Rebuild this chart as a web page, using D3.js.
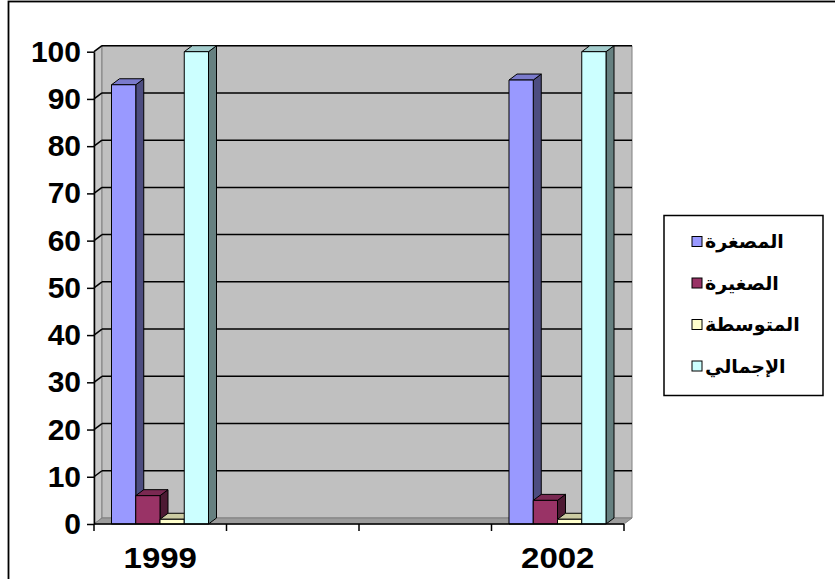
<!DOCTYPE html>
<html>
<head>
<meta charset="utf-8">
<script src="https://cdn.jsdelivr.net/npm/d3@7"></script>
<style>
  html, body { margin: 0; padding: 0; background: #ffffff; }
  svg { display: block; }
</style>
</head>
<body>
<svg id="chart" width="835" height="579"></svg>
<script>
// Axis slots (a yearly time axis) and the years that carry data
const years = ["1999", "2000", "2001", "2002"];
const dataYears = ["1999", "2002"];

// Series (enterprise size classes), percentages per data year
const seriesNames = ["المصغرة", "الصغيرة", "المتوسطة", "الإجمالي"];
const microValues = [93, 94];
const smallValues = [6, 5];
const mediumValues = [1, 1];
const totalValues = [100, 100];

const yTicks = [0, 10, 20, 30, 40, 50, 60, 70, 80, 90, 100];

// Face colours: front, top, side
const frontColors = ["#9999ff", "#993366", "#ffffcc", "#ccffff"];
const topColors   = ["#7a7acc", "#7a2952", "#cccca3", "#a3cccc"];
const sideColors  = ["#4d4d80", "#4d1a33", "#808066", "#668080"];

const seriesValues = [microValues, smallValues, mediumValues, totalValues];

const svg = d3.select("#chart");
const W = 835, H = 579;

// Outer frame (only top and left edges fall inside the view)
svg.append("rect")
  .attr("x", 8.5).attr("y", 1.5)
  .attr("width", W + 20).attr("height", H + 20)
  .attr("fill", "#ffffff").attr("stroke", "#000").attr("stroke-width", 1.8);

// Scales
const x = d3.scaleBand().domain(years).range([94, 624]).padding(0);
const y = d3.scaleLinear().domain([0, 100]).range([524, 51.7]);
const inner = d3.scaleBand().domain(d3.range(seriesNames.length))
  .range([17.5, 17.5 + 97]).padding(0);

// 3D depth offset
const dx = 8, dy = -6;
const [x0, x1] = x.range();
const yBase = y(0), yTop = y(100);

const poly = pts => pts.map(p => p.join(",")).join(" ");

// Side wall
svg.append("polygon")
  .attr("points", poly([[x0, yTop], [x0 + dx, yTop + dy], [x0 + dx, yBase + dy], [x0, yBase]]))
  .attr("fill", "#c8c8c8").attr("stroke", "#808080").attr("stroke-width", 1);

// Back wall
svg.append("polygon")
  .attr("points", poly([[x0 + dx, yTop + dy], [x1 + dx, yTop + dy], [x1 + dx, yBase + dy], [x0 + dx, yBase + dy]]))
  .attr("fill", "#c0c0c0").attr("stroke", "#808080").attr("stroke-width", 1);

// Floor
svg.append("polygon")
  .attr("points", poly([[x0, yBase], [x0 + dx, yBase + dy], [x1 + dx, yBase + dy], [x1, yBase]]))
  .attr("fill", "#9c9c9c").attr("stroke", "#808080").attr("stroke-width", 1);

// Gridlines on the back wall plus their diagonal on the side wall
const grid = svg.append("g").attr("stroke", "#000").attr("stroke-width", 1.5);
yTicks.filter(v => v > 0).forEach(v => {
  grid.append("line")
    .attr("x1", x0 + dx).attr("x2", x1 + dx)
    .attr("y1", y(v) + dy).attr("y2", y(v) + dy);
  grid.append("line")
    .attr("x1", x0).attr("x2", x0 + dx)
    .attr("y1", y(v)).attr("y2", y(v) + dy);
});

// Bars
const bars = svg.append("g");
dataYears.forEach((yr, i) => {
  seriesNames.forEach((name, s) => {
    const v = seriesValues[s][i];
    const bx = x(yr) + inner(s);
    const bw = inner.bandwidth();
    const by = y(v);
    const g = bars.append("g").attr("stroke", "#000").attr("stroke-width", 1).attr("stroke-linejoin", "round");
    // right side face
    g.append("polygon")
      .attr("points", poly([[bx + bw, by], [bx + bw + dx, by + dy], [bx + bw + dx, yBase + dy], [bx + bw, yBase]]))
      .attr("fill", sideColors[s]);
    // top face
    g.append("polygon")
      .attr("points", poly([[bx, by], [bx + dx, by + dy], [bx + bw + dx, by + dy], [bx + bw, by]]))
      .attr("fill", topColors[s]);
    // front face
    g.append("rect")
      .attr("x", bx).attr("y", by)
      .attr("width", bw).attr("height", yBase - by)
      .attr("fill", frontColors[s]);
  });
});

// Value axis
const yAxis = d3.axisLeft(y).tickValues(yTicks).tickSize(7).tickSizeOuter(0).tickPadding(6);
const yg = svg.append("g").attr("transform", `translate(${x0},0)`).call(yAxis);
yg.select(".domain").attr("stroke", "#000").attr("stroke-width", 1.5);
yg.selectAll(".tick line").attr("stroke", "#000").attr("stroke-width", 1.5);
yg.selectAll(".tick text")
  .attr("fill", "#000")
  .style("font-family", "'Liberation Sans', Arial, sans-serif")
  .style("font-size", "30px").style("font-weight", "bold");

// Category axis: ticks at slot boundaries, labels at years with data
const xg = svg.append("g");
xg.append("line")
  .attr("x1", x0).attr("x2", x1).attr("y1", yBase).attr("y2", yBase)
  .attr("stroke", "#000").attr("stroke-width", 1.5);
years.map(d => x(d)).concat([x1]).forEach(px => {
  xg.append("line")
    .attr("x1", px).attr("x2", px).attr("y1", yBase).attr("y2", yBase + 7)
    .attr("stroke", "#000").attr("stroke-width", 1.5);
});
xg.selectAll("text.cat").data(dataYears).join("text")
  .attr("class", "cat")
  .attr("transform", d => `translate(${x(d) + x.bandwidth() / 2},568) scale(1.1,1)`)
  .attr("text-anchor", "middle")
  .attr("fill", "#000")
  .style("font-family", "'Liberation Sans', Arial, sans-serif")
  .style("font-size", "30px").style("font-weight", "bold")
  .text(d => d);

// Legend
const legend = svg.append("g");
legend.append("rect")
  .attr("x", 664).attr("y", 215.5).attr("width", 159).attr("height", 180)
  .attr("fill", "#fff").attr("stroke", "#000").attr("stroke-width", 1.5);
const ly = d3.scalePoint().domain(seriesNames).range([241.5, 366]);
seriesNames.forEach((name, s) => {
  legend.append("rect")
    .attr("x", 692).attr("y", ly(name) - 5).attr("width", 10).attr("height", 10)
    .attr("fill", frontColors[s]).attr("stroke", "#000").attr("stroke-width", 1);
  legend.append("text")
    .attr("x", 705).attr("y", ly(name))
    .attr("dy", "0.35em")
    .attr("text-anchor", "start")
    .attr("fill", "#000")
    .style("font-family", "'DejaVu Sans', sans-serif")
    .style("font-size", "19px").style("font-weight", "bold")
    .text(name);
});
</script>
</body>
</html>
